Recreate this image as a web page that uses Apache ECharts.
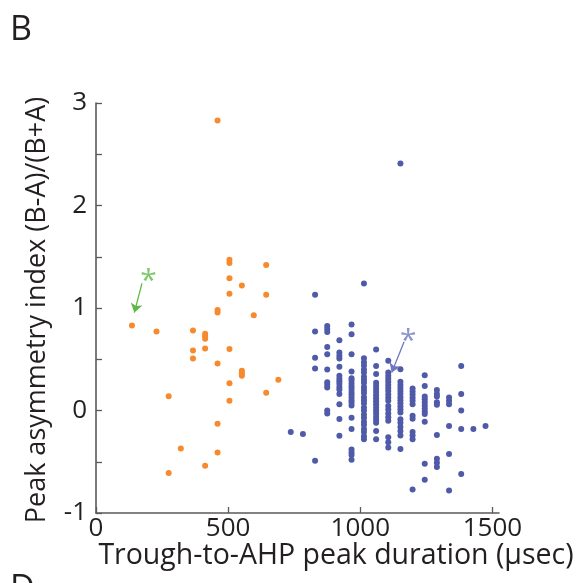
<!DOCTYPE html>
<html>
<head>
<meta charset="utf-8">
<script src="https://cdn.jsdelivr.net/npm/echarts@6/dist/echarts.min.js"></script>
<style>
  html, body { margin: 0; padding: 0; background: #fff; }
  #chart { width: 580px; height: 583px; }
</style>
</head>
<body>
<div id="chart"></div>
<script>
  // tick values
  var xTicks = [0, 500, 1000, 1500];
  var yTicks = [-1, 0, 1, 2, 3];

  // narrow-spiking units (orange)
  var orangeX = [460, 505, 505, 644, 505, 552, 505, 644, 460, 460, 597, 136, 229, 367, 413, 413, 413, 367, 413, 505,
    367, 460, 552, 552, 552, 690, 505, 644, 275, 505, 460, 321, 460, 413, 275];
  var orangeY = [2.83, 1.47, 1.44, 1.42, 1.29, 1.22, 1.14, 1.13, 0.98, 0.955, 0.93, 0.83, 0.77, 0.78, 0.75, 0.725, 0.70, 0.585, 0.605, 0.60,
    0.507, 0.458, 0.387, 0.364, 0.338, 0.30, 0.267, 0.172, 0.14, 0.095, -0.13, -0.37, -0.41, -0.54, -0.61];

  // broad-spiking units (blue), one list of y values per duration column
  var blueColumnX = [737, 783, 829, 875, 921, 967, 1014, 1060, 1106, 1152, 1198, 1244, 1290, 1336, 1382, 1428, 1474];
  var blueColumnY = [
    [-0.21],
    [-0.23],
    [1.13, 0.77, 0.515, 0.41, -0.49],
    [0.825, 0.795, 0.765, 0.62, 0.55, 0.40, 0.275, 0.25, 0.225, 0.0, -0.03],
    [0.685, 0.565, 0.535, 0.507, 0.426, 0.338, 0.31, 0.285, 0.26, 0.23, 0.205, 0.16, 0.062, -0.084, -0.246],
    [0.84, 0.745, 0.55, 0.38, 0.315, 0.29, 0.26, 0.235, 0.21, 0.18, 0.155, 0.13, 0.10, 0.075, 0.05, -0.07, -0.18, -0.38, -0.41, -0.435, -0.48],
    [1.24, 0.51, 0.47, 0.44, 0.40, 0.37, 0.33, 0.30, 0.27, 0.23, 0.20, 0.17, 0.13, 0.10, 0.07, 0.03, 0.0, -0.04, -0.07, -0.11, -0.14, -0.18, -0.21, -0.25, -0.28],
    [0.595, 0.435, 0.355, 0.27, 0.24, 0.21, 0.18, 0.15, 0.12, 0.09, 0.06, 0.03, 0.0, -0.03, -0.06, -0.09, -0.12, -0.20, -0.28],
    [0.485, 0.37, 0.34, 0.31, 0.28, 0.25, 0.22, 0.19, 0.155, 0.125, 0.095, 0.045, 0.01, -0.03, -0.065, -0.10, -0.26, -0.31, -0.36],
    [2.41, 0.403, 0.28, 0.25, 0.22, 0.19, 0.16, 0.13, 0.10, 0.07, 0.04, 0.01, -0.02, -0.085, -0.12, -0.16, -0.20, -0.245, -0.375],
    [0.215, 0.185, 0.155, 0.125, 0.095, 0.062, -0.05, -0.08, -0.21, -0.245, -0.28, -0.77],
    [0.344, 0.24, 0.137, 0.11, 0.08, 0.05, 0.02, -0.01, -0.035, -0.11, -0.52, -0.675],
    [0.20, 0.16, 0.137, 0.08, 0.056, -0.24, -0.47, -0.51, -0.55],
    [0.127, 0.095, 0.062, -0.15, -0.425, -0.78],
    [0.435, 0.16, 0.0, -0.18, -0.62],
    [-0.18],
    [-0.152]
  ];

  // asterisk markers and their arrows (data coords)
  var greenStar = [199, 1.33];
  var greenArrow = [[174, 1.24], [145, 0.955]];
  var blueStar = [1182, 0.744];
  var blueArrow = [[1166, 0.67], [1119, 0.37]];

  var FONT = '"Open Sans", sans-serif';
  var AXIS_COLOR = '#5a5a5c';
  var TEXT_COLOR = '#231f20';

  var orangeData = orangeX.map(function (x, i) { return [x, orangeY[i]]; });
  var blueData = [];
  blueColumnX.forEach(function (x, i) {
    blueColumnY[i].forEach(function (y) { blueData.push([x, y]); });
  });

  function annotation(star, arrow, color) {
    return {
      type: 'scatter',
      data: [star],
      symbolSize: 1,
      itemStyle: {color: 'rgba(0,0,0,0)'},
      label: {
        show: true,
        position: 'inside',
        formatter: '*',
        color: color,
        fontSize: 30,
        fontFamily: FONT,
        offset: [0, 7]
      },
      markLine: {
        silent: true,
        animation: false,
        symbol: ['none', 'arrow'],
        symbolSize: 9,
        label: {show: false},
        lineStyle: {color: color, width: 1.3, type: 'solid'},
        data: [[{coord: arrow[0]}, {coord: arrow[1]}]]
      },
      z: 5
    };
  }

  var dom = document.getElementById('chart');
  var myChart = echarts.init(dom);
  var option = {
    animation: false,
    grid: {left: 96, top: 103, width: 403, height: 410, containLabel: false},
    xAxis: {
      type: 'value',
      min: 0,
      max: 1525,
      interval: 500,
      axisLine: {show: true, onZero: false, lineStyle: {color: AXIS_COLOR, width: 1.6}},
      axisTick: {show: true, inside: true, length: 6, customValues: xTicks, lineStyle: {color: AXIS_COLOR, width: 1.3}},
      axisLabel: {
        customValues: xTicks, color: TEXT_COLOR, fontSize: 26, fontFamily: FONT, margin: 3,
        formatter: function (v) { return String(v); }
      },
      splitLine: {show: false}
    },
    yAxis: {
      type: 'value',
      min: -1,
      max: 3,
      interval: 0.5,
      axisLine: {show: true, onZero: false, lineStyle: {color: AXIS_COLOR, width: 1.6}},
      axisTick: {show: true, inside: true, length: 6, lineStyle: {color: AXIS_COLOR, width: 1.3}},
      axisLabel: {
        color: TEXT_COLOR, fontSize: 26, fontFamily: FONT, margin: 9,
        formatter: function (v) { return yTicks.indexOf(v) >= 0 ? String(v) : ''; }
      },
      splitLine: {show: false}
    },
    series: [
      {
        type: 'scatter',
        data: orangeData,
        symbolSize: 6,
        itemStyle: {color: '#f68a2c', opacity: 1}
      },
      {
        type: 'scatter',
        data: blueData,
        symbolSize: 6,
        itemStyle: {color: '#4f5aa8', opacity: 1}
      },
      annotation(greenStar, greenArrow, '#5cb947'),
      annotation(blueStar, blueArrow, '#6d78c0')
    ],
    graphic: [
      {type: 'text', left: 10, top: 13, style: {text: 'B', font: '34px ' + FONT, fill: TEXT_COLOR}},
      {type: 'text', left: 10, top: 572, style: {text: 'D', font: '34px ' + FONT, fill: TEXT_COLOR}},
      {
        type: 'text', x: 336, y: 556,
        style: {text: 'Trough-to-AHP peak duration (µsec)', font: '28.5px ' + FONT, fill: TEXT_COLOR, align: 'center', verticalAlign: 'middle'}
      },
      {
        type: 'text', x: 37, y: 310, rotation: Math.PI / 2,
        style: {text: 'Peak asymmetry index (B-A)/(B+A)', font: '27px ' + FONT, fill: TEXT_COLOR, align: 'center', verticalAlign: 'middle'}
      }
    ]
  };
  myChart.setOption(option, true);
</script>
</body>
</html>
